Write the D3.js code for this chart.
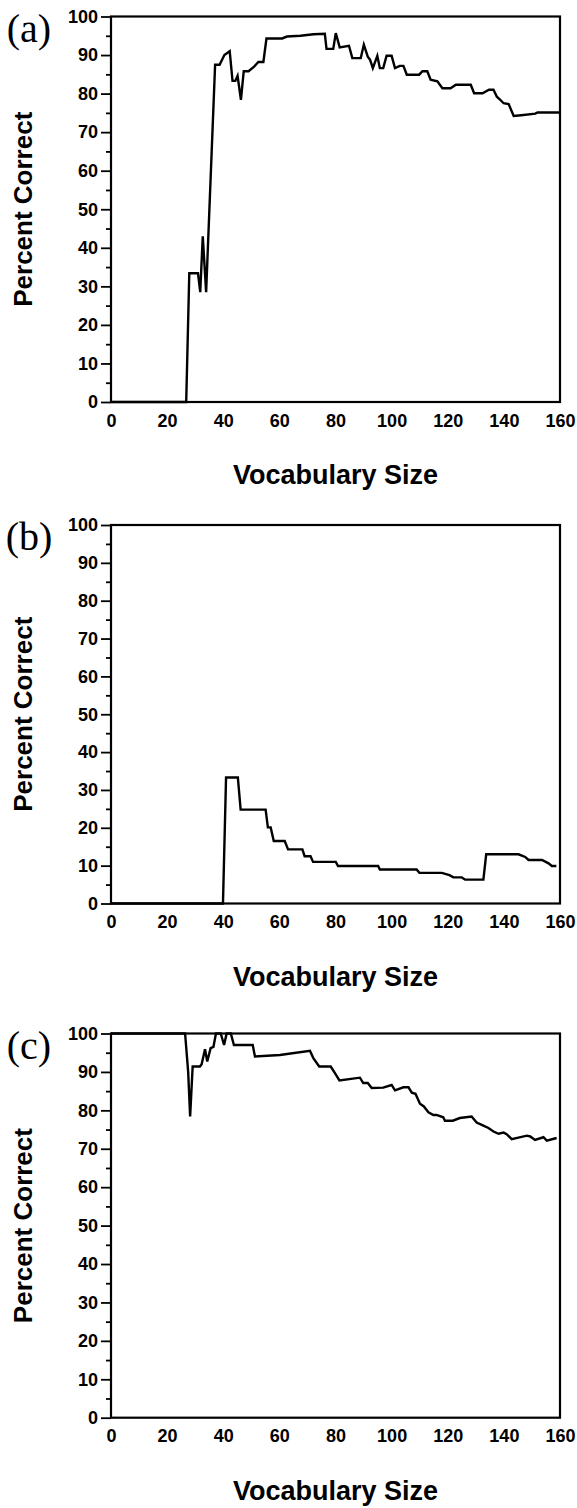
<!DOCTYPE html>
<html>
<head>
<meta charset="utf-8">
<script src="https://cdn.jsdelivr.net/npm/d3@7"></script>
<style>
  body { margin: 0; background: #fff; }
  text { fill: #000; }
</style>
</head>
<body>
<div id="chart"></div>
<script>
// panel letters and axis ticks
let panel_letters = ['(a)', '(b)', '(c)'];
let x_ticks = [0, 20, 40, 60, 80, 100, 120, 140, 160];
let y_major = [0, 10, 20, 30, 40, 50, 60, 70, 80, 90, 100];
let y_minor = [5, 15, 25, 35, 45, 55, 65, 75, 85, 95];

// [vocabulary size, percent correct]
let series_a = [
  [0, 0], [26.8, 0], [27.9, 33.4], [31, 33.4], [31.8, 28.5], [32.7, 43], [33.9, 28.5],
  [37.1, 87.5], [38.7, 87.5], [40.4, 90], [42.3, 91], [43.3, 83.3], [44.3, 83.3],
  [45.1, 84.6], [46.3, 78.4], [47.3, 85.8], [49, 85.8], [51, 87], [52.5, 88.2],
  [54.3, 88.2], [55.4, 94.3], [61, 94.3], [62.7, 94.8], [67.5, 95], [72.2, 95.4],
  [76.2, 95.5], [76.8, 91.6], [79.2, 91.6], [80.1, 95.7], [81.5, 92], [84.8, 92.4],
  [86, 89.2], [89, 89.2], [90.1, 92.7], [91.5, 89.6], [92.3, 88.8], [93.3, 86.6],
  [94.9, 89.8], [95.8, 86.6], [97, 86.6], [98.2, 89.8], [100, 89.8], [101.2, 86.6],
  [102.9, 87.2], [104.2, 87.2], [105.4, 84.9], [109.8, 84.9], [111, 85.8], [112.7, 85.8],
  [113.9, 83.6], [116.3, 83.2], [118.1, 81.4], [121, 81.4], [122.9, 82.3], [128.2, 82.3],
  [129.4, 80.1], [132.4, 80.1], [134.7, 81], [136.3, 81], [137.5, 79.2], [138.7, 78.4],
  [139.9, 77.5], [141.7, 77.3], [143.5, 74.2], [146.2, 74.4], [151.2, 74.8], [152, 75.1],
  [159.8, 75.1]
];

let series_b = [
  [0, 0], [39.9, 0], [41, 33.3], [45.2, 33.3], [46.2, 24.8], [55.1, 24.8], [55.9, 20.1],
  [56.9, 20.1], [58, 16.5], [61.9, 16.5], [63.1, 14.3], [68.2, 14.3], [69, 12.5],
  [71.1, 12.5], [72, 11], [80.1, 11], [80.9, 9.9], [95.2, 9.9], [95.8, 9], [108.9, 9],
  [109.9, 8.1], [117.9, 8.1], [120.6, 7.5], [122, 6.9], [125, 6.9], [126.2, 6.3],
  [132.7, 6.3], [133.7, 13], [145.2, 13], [147.6, 12.3], [148.8, 11.5], [153.6, 11.5],
  [155.9, 10.6], [157.1, 9.9], [158.7, 9.9]
];

let series_c = [
  [0, 100], [26.4, 100], [27.5, 90], [28.2, 78.4], [29.1, 91.4], [31.7, 91.4], [32.3, 92],
  [33.5, 95.9], [34.3, 92.7], [35.5, 96.2], [36.5, 96.5], [37.4, 100], [39.1, 100],
  [40.3, 97], [41.2, 100], [42.7, 100], [43.8, 97], [50.5, 97], [51.3, 94], [60.2, 94.4],
  [70.9, 95.5], [72.1, 93.6], [74.2, 91.4], [78.3, 91.4], [79.8, 89.7], [81.4, 87.8],
  [88.7, 88.5], [89.9, 87.1], [91.5, 87.1], [92.9, 85.8], [97, 85.9], [100, 86.6],
  [101.2, 85.2], [104.2, 86], [106, 86], [107.2, 84.6], [108.5, 84.3], [110.1, 81.7],
  [111.5, 81], [113.1, 79.5], [114.9, 78.8], [116, 78.8], [118.4, 78.2], [119, 77.3],
  [121.8, 77.3], [124.3, 78], [128.5, 78.4], [130.3, 76.8], [132.7, 76], [134.5, 75.4],
  [136.3, 74.5], [138.1, 73.9], [139.9, 74.2], [141, 73.8], [142.8, 72.5], [148.2, 73.4],
  [149.4, 73.2], [151.1, 72.3], [154.1, 73], [155.3, 72.1], [158.8, 72.8]
];

let all_series = [series_a, series_b, series_c];

let chart_width = 577;
let chart_height = 1508;
let left = 111;
let right = 560;
// top / bottom of each plot box
let panel_tops = [16.5, 525, 1033.5];
let panel_bottoms = [402, 903.5, 1417.7];

let sans = 'Liberation Sans, Arial, Helvetica, sans-serif';

let svg = d3
  .select('#chart')
  .append('svg')
  .attr('width', chart_width)
  .attr('height', chart_height);

let x_scale = d3.scaleLinear().domain([0, 160]).range([left, right]);

all_series.forEach((data, i) => {
  let top = panel_tops[i];
  let bottom = panel_bottoms[i];
  let y_scale = d3.scaleLinear().domain([0, 100]).range([bottom, top]);
  let g = svg.append('g');

  //minor ticks
  g.append('g')
    .attr('transform', 'translate(' + left + ',0)')
    .call(d3.axisLeft(y_scale).tickValues(y_minor).tickSize(5).tickFormat(''))
    .call(a => a.select('.domain').remove())
    .call(a => a.selectAll('line').attr('stroke-width', 1.8));

  //major ticks with labels
  g.append('g')
    .attr('transform', 'translate(' + left + ',0)')
    .call(d3.axisLeft(y_scale).tickValues(y_major).tickSize(10).tickPadding(3))
    .call(a => a.select('.domain').remove())
    .call(a => a.selectAll('line').attr('stroke-width', 1.8))
    .call(a =>
      a.selectAll('text')
        .attr('font-family', sans)
        .attr('font-weight', 'bold')
        .attr('font-size', 18)
    );

  //x axis labels only
  g.append('g')
    .attr('transform', 'translate(0,' + bottom + ')')
    .call(d3.axisBottom(x_scale).tickValues(x_ticks).tickSize(0).tickPadding(12))
    .call(a => a.select('.domain').remove())
    .call(a =>
      a.selectAll('text')
        .attr('font-family', sans)
        .attr('font-weight', 'bold')
        .attr('font-size', 18)
    );

  //plot box
  g.append('rect')
    .attr('x', left)
    .attr('y', top)
    .attr('width', right - left)
    .attr('height', bottom - top)
    .attr('fill', 'none')
    .attr('stroke', '#000')
    .attr('stroke-width', 2.2);

  let line = d3
    .line()
    .x(d => x_scale(d[0]))
    .y(d => y_scale(d[1]));

  g.append('path')
    .datum(data)
    .attr('d', line)
    .attr('fill', 'none')
    .attr('stroke', '#000')
    .attr('stroke-width', 2.4)
    .attr('stroke-linejoin', 'miter');

  //axis titles
  g.append('text')
    .attr('transform', 'translate(32,' + (top + bottom) / 2 + ') rotate(-90)')
    .attr('text-anchor', 'middle')
    .attr('font-family', sans)
    .attr('font-weight', 'bold')
    .attr('font-size', 26)
    .text('Percent Correct');

  g.append('text')
    .attr('x', (left + right) / 2)
    .attr('y', bottom + 82)
    .attr('text-anchor', 'middle')
    .attr('font-family', sans)
    .attr('font-weight', 'bold')
    .attr('font-size', 27)
    .text('Vocabulary Size');

  //panel letter
  g.append('text')
    .attr('x', 29)
    .attr('y', top + 25)
    .attr('text-anchor', 'middle')
    .attr('font-family', 'Liberation Serif, Times New Roman, serif')
    .attr('font-size', 40)
    .text(panel_letters[i]);
});
</script>
</body>
</html>
